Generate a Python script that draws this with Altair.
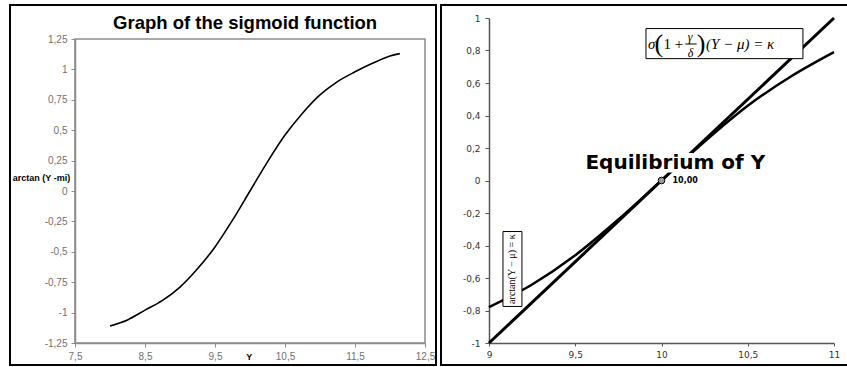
import altair as alt
import pandas as pd

# ---------------- data ----------------
# Left panel: arctan(Y - mi)
left_Y = [8.0, 8.25, 8.5, 8.75, 9.0, 9.25, 9.5, 9.75, 10.0, 10.25, 10.5, 10.75,
          11.0, 11.25, 11.5, 11.75, 12.0, 12.14]
left_arctan = [-1.11, -1.06, -0.98, -0.90, -0.79, -0.64, -0.46, -0.24, 0.0, 0.24,
               0.46, 0.64, 0.79, 0.90, 0.98, 1.05, 1.11, 1.13]
left_x_ticks = [7.5, 8.5, 9.5, 10.5, 11.5, 12.5]
left_y_ticks = [-1.25, -1.0, -0.75, -0.5, -0.25, 0.0, 0.25, 0.5, 0.75, 1.0, 1.25]

# Right panel: straight line and arctan curve around the equilibrium
line_Y = [9.0, 11.0]
line_val = [-1.0, 1.0]
curve_Y = [9.0, 9.25, 9.5, 9.75, 10.0, 10.25, 10.5, 10.75, 11.0]
curve_val = [-0.78, -0.64, -0.46, -0.24, 0.0, 0.24, 0.46, 0.64, 0.79]
right_x_ticks = [9.0, 9.5, 10.0, 10.5, 11.0]
right_y_ticks = [-1.0, -0.8, -0.6, -0.4, -0.2, 0.0, 0.2, 0.4, 0.6, 0.8, 1.0]
eq_Y = [10.0]
eq_val = [0.0]
eq_label = ["10,00"]

# text
left_title = "Graph of the sigmoid function"
left_ylabel = "arctan (Y -mi)"
left_xlabel = "Y"
right_title = "Equilibrium of Y"
vertical_formula = "arctan(Y − μ) = κ"
formula_italic_text = ["σ", "γ", "δ", "(Y − μ) = κ"]
formula_italic_x = [9.922, 10.152, 10.152, 10.258]
formula_italic_y = [0.840, 0.885, 0.785, 0.840]
formula_italic_size = [15, 12, 12, 15]
formula_upright_text = ["(", "1 +", ")"]
formula_upright_x = [9.960, 10.012, 10.204]
formula_upright_y = [0.840, 0.840, 0.840]
formula_upright_size = [26, 15, 26]

LABEL_EXPR = "replace(toString(datum.value), '.', ',')"

# ---------------- scales / axes ----------------
LX = alt.Scale(domain=[7.5, 12.5], range=[75, 425], nice=False, zero=False)
LY = alt.Scale(domain=[-1.25, 1.25], range=[343, 39], nice=False, zero=False)
RX = alt.Scale(domain=[9, 11], range=[489, 834], nice=False, zero=False)
RY = alt.Scale(domain=[-1, 1], range=[343, 18], nice=False, zero=False)

left_x_axis = alt.Axis(orient="bottom", offset=-24, values=left_x_ticks, tickCount=40,
                       labelExpr=LABEL_EXPR,
                       title=None, grid=False, domainColor="#8c8c8c", domainWidth=1.5,
                       tickColor="#8c8c8c", tickSize=4, labelPadding=4,
                       labelFont="Liberation Sans", labelFontSize=10, labelColor="#707070",
                       labelFlush=False, labelOverlap=False)
left_y_axis = alt.Axis(orient="left", offset=-75, values=left_y_ticks, tickCount=40,
                       labelExpr=LABEL_EXPR,
                       title=None, grid=False, domainColor="#8c8c8c", domainWidth=1.5,
                       tickColor="#8c8c8c", tickSize=4, labelPadding=4,
                       labelFont="Liberation Sans", labelFontSize=10, labelColor="#707070",
                       labelFlush=False, labelOverlap=False)
right_x_axis = alt.Axis(orient="bottom", offset=-24, values=right_x_ticks, tickCount=40,
                        labelExpr=LABEL_EXPR,
                        title=None, grid=False, domainColor="#555555", domainWidth=1.5,
                        tickColor="#555555", tickSize=3, labelPadding=4,
                        labelFont="DejaVu Sans", labelFontSize=9, labelColor="#333333",
                        labelFlush=False, labelOverlap=False)
right_y_axis = alt.Axis(orient="left", offset=-489, values=right_y_ticks, tickCount=40,
                        labelExpr=LABEL_EXPR,
                        title=None, grid=False, domainColor="#555555", domainWidth=1.5,
                        tickColor="#555555", tickSize=4, labelPadding=5,
                        labelFont="DejaVu Sans", labelFontSize=9, labelColor="#333333",
                        labelFlush=False, labelOverlap=False)


def lenc(axes=False):
    return dict(x=alt.X("x:Q", scale=LX, axis=left_x_axis if axes else alt.Undefined),
                y=alt.Y("y:Q", scale=LY, axis=left_y_axis if axes else alt.Undefined))


def renc(axes=False):
    return dict(x=alt.X("x:Q", scale=RX, axis=right_x_axis if axes else alt.Undefined),
                y=alt.Y("y:Q", scale=RY, axis=right_y_axis if axes else alt.Undefined))


# ---------------- left panel ----------------
left_curve = alt.Chart(pd.DataFrame({"x": left_Y, "y": left_arctan})).mark_line(
    color="black", strokeWidth=1.6, interpolate="monotone").encode(**lenc(True))

left_frame = alt.Chart(pd.DataFrame({"x": [7.5], "x2": [12.5], "y": [-1.25], "y2": [1.25]})).mark_rect(
    fillOpacity=0, stroke="#8c8c8c", strokeWidth=1.5).encode(
    **lenc(), x2="x2:Q", y2="y2:Q")

left_title_mark = alt.Chart(pd.DataFrame({"x": [9.93], "y": [1.38], "t": [left_title]})).mark_text(
    font="Liberation Sans", fontWeight="bold", fontSize=18.5, color="black", baseline="middle"
).encode(**lenc(), text="t:N")

left_ylabel_mark = alt.Chart(pd.DataFrame({"x": [7.5], "y": [0.107], "t": [left_ylabel]})).mark_text(
    font="Liberation Sans", fontWeight="bold", fontSize=9, color="black", baseline="middle", dx=-33.5
).encode(**lenc(), text="t:N")

left_xlabel_mark = alt.Chart(pd.DataFrame({"x": [9.99], "y": [-1.365], "t": [left_xlabel]})).mark_text(
    font="Liberation Sans", fontWeight="bold", fontSize=9, color="black", baseline="middle"
).encode(**lenc(), text="t:N")

left_layer = alt.layer(left_frame, left_curve, left_title_mark, left_ylabel_mark, left_xlabel_mark)

# ---------------- right panel ----------------
right_line = alt.Chart(pd.DataFrame({"x": line_Y, "y": line_val})).mark_line(
    color="black", strokeWidth=3).encode(**renc(True))
right_curve = alt.Chart(pd.DataFrame({"x": curve_Y, "y": curve_val})).mark_line(
    color="black", strokeWidth=2.5, interpolate="monotone").encode(**renc())

formula_box = alt.Chart(pd.DataFrame({"x": [9.91], "x2": [10.82], "y": [0.75], "y2": [0.935]})).mark_rect(
    fill="white", stroke="black", strokeWidth=1).encode(**renc(), x2="x2:Q", y2="y2:Q")
formula_it = alt.Chart(pd.DataFrame({"x": formula_italic_x, "y": formula_italic_y,
                                     "t": formula_italic_text, "s": formula_italic_size})).mark_text(
    font="Liberation Serif", fontStyle="italic", color="black", align="left", baseline="middle"
).encode(**renc(), text="t:N", size=alt.Size("s:Q", scale=None, legend=None))
formula_up = alt.Chart(pd.DataFrame({"x": formula_upright_x, "y": formula_upright_y,
                                     "t": formula_upright_text, "s": formula_upright_size})).mark_text(
    font="Liberation Serif", color="black", align="left", baseline="middle"
).encode(**renc(), text="t:N", size=alt.Size("s:Q", scale=None, legend=None))
formula_bar = alt.Chart(pd.DataFrame({"x": [10.138], "x2": [10.204], "y": [0.840]})).mark_rule(
    color="black", strokeWidth=1).encode(**renc(), x2="x2:Q")

vert_box = alt.Chart(pd.DataFrame({"x": [9.081], "x2": [9.191], "y": [-0.775], "y2": [-0.314]})).mark_rect(
    fill="white", stroke="black", strokeWidth=1).encode(**renc(), x2="x2:Q", y2="y2:Q")
vert_text = alt.Chart(pd.DataFrame({"x": [9.136], "y": [-0.545], "t": [vertical_formula]})).mark_text(
    font="Liberation Serif", fontSize=10, color="black", angle=270, align="center", baseline="middle"
).encode(**renc(), text="t:N")

eq_title_bg = alt.Chart(pd.DataFrame({"x": [9.55], "x2": [10.62], "y": [0.05], "y2": [0.17]})).mark_rect(
    fill="white").encode(**renc(), x2="x2:Q", y2="y2:Q")
eq_title = alt.Chart(pd.DataFrame({"x": [10.08], "y": [0.11], "t": [right_title]})).mark_text(
    font="DejaVu Sans", fontWeight="bold", fontSize=20, color="black", baseline="middle"
).encode(**renc(), text="t:N")
eq_point = alt.Chart(pd.DataFrame({"x": eq_Y, "y": eq_val})).mark_point(
    shape="circle", filled=True, fill="#9a9a9a", stroke="black", strokeWidth=1, size=45, opacity=1
).encode(**renc())
eq_text = alt.Chart(pd.DataFrame({"x": eq_Y, "y": eq_val, "t": eq_label})).mark_text(
    font="DejaVu Sans", fontWeight="bold", fontSize=8, color="black", align="left",
    baseline="middle", dx=11
).encode(**renc(), text="t:N")

right_layer = alt.layer(right_line, right_curve, formula_box, formula_bar, formula_it, formula_up,
                        vert_box, vert_text, eq_title_bg, eq_title, eq_point, eq_text)

# ---------------- panel borders (decoration) ----------------
border_df = pd.DataFrame({"k": [0]})
left_border = alt.Chart(border_df).mark_rect(fillOpacity=0, stroke="black", strokeWidth=2).encode(
    x=alt.value(10), x2=alt.value(436), y=alt.value(5), y2=alt.value(365))
right_border = alt.Chart(border_df).mark_rect(fillOpacity=0, stroke="black", strokeWidth=2).encode(
    x=alt.value(441), x2=alt.value(852), y=alt.value(5), y2=alt.value(365))

chart = alt.layer(left_layer, right_layer, left_border, right_border).resolve_scale(
    x="independent", y="independent"
).properties(
    width=847, height=367, padding=0,
    autosize=alt.AutoSizeParams(type="none"),
    background="white",
).configure_view(stroke="transparent")

chart.save("out.html", embed_options={"renderer": "svg", "actions": False})
